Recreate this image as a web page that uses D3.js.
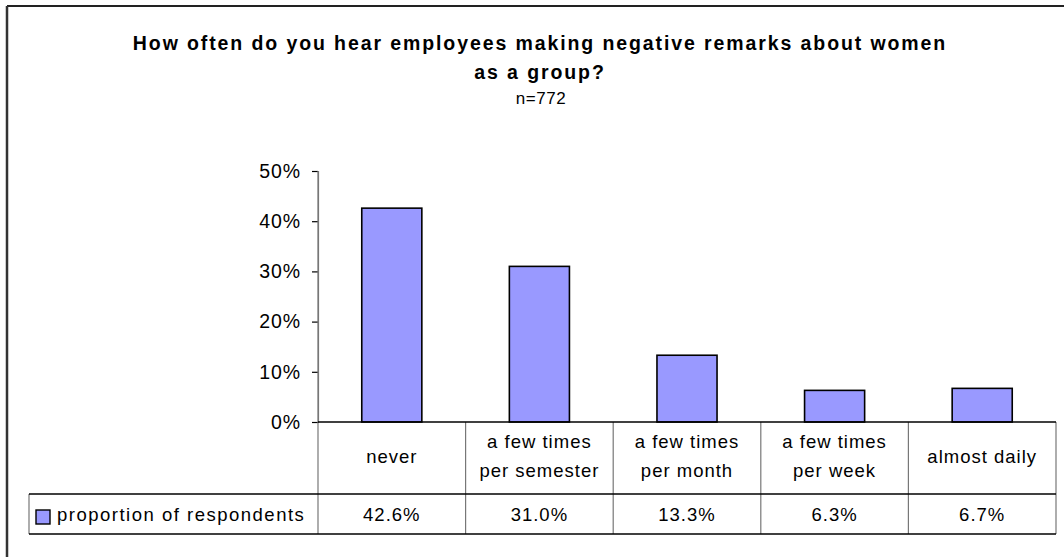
<!DOCTYPE html>
<html>
<head>
<meta charset="utf-8">
<script src="https://cdn.jsdelivr.net/npm/d3@7"></script>
<style>
  html, body { margin: 0; padding: 0; background: #fff; }
  svg { display: block; font-family: Arial, "Liberation Sans", sans-serif; }
</style>
</head>
<body>
<svg id="chart" width="1064" height="557"></svg>
<script>
// Survey responses
const categories = [
  ["never"],
  ["a few times", "per semester"],
  ["a few times", "per month"],
  ["a few times", "per week"],
  ["almost daily"]
];
const values = [42.6, 31.0, 13.3, 6.3, 6.7];
const yTicks = [0, 10, 20, 30, 40, 50];
const seriesName = "proportion of respondents";
const titleLines = ["How often do you hear employees making negative remarks about women", "as a group?"];
const subtitle = "n=772";

const svg = d3.select("#chart");
const W = 1064, H = 557;

// outer frame (top and left edges visible)
svg.append("line").attr("x1", 7).attr("x2", W).attr("y1", 6).attr("y2", 6)
  .attr("stroke", "#222").attr("stroke-width", 2);
svg.append("line").attr("x1", 7).attr("x2", 7).attr("y1", 6).attr("y2", H)
  .attr("stroke", "#333").attr("stroke-width", 2.5);

// titles
const titleG = svg.append("g").attr("text-anchor", "middle");
titleLines.forEach((t, i) => {
  titleG.append("text").attr("x", 540).attr("y", 50 + i * 29)
    .attr("font-size", 19.5).attr("font-weight", "bold")
    .attr("letter-spacing", 1.9)
    .text(t);
});
titleG.append("text").attr("x", 541).attr("y", 104)
  .attr("font-size", 17).attr("letter-spacing", 0.6).text(subtitle);

// scales
const plotLeft = 318, plotRight = 1056, plotTop = 171, plotBottom = 422;
const x = d3.scaleBand().domain(d3.range(categories.length))
  .range([plotLeft, plotRight]).paddingInner(0).paddingOuter(0);
const y = d3.scaleLinear().domain([0, 50]).range([plotBottom, plotTop]);

// y axis
const yAxis = d3.axisLeft(y).tickValues(yTicks).tickSize(6).tickPadding(11)
  .tickFormat(d => d + "%");
const yG = svg.append("g").attr("transform", `translate(${plotLeft},0)`).call(yAxis);
yG.select(".domain").attr("stroke", "#777").attr("stroke-width", 1.2);
yG.selectAll(".tick line").attr("stroke", "#000").attr("stroke-width", 1.2);
yG.selectAll(".tick text").attr("font-size", 19.5).attr("fill", "#000")
  .attr("font-family", "Arial, 'Liberation Sans', sans-serif")
  .attr("letter-spacing", 0.9);

// bars
const barW = x.bandwidth() * 0.407;
svg.append("g").selectAll("rect").data(values).join("rect")
  .attr("x", (d, i) => x(i) + (x.bandwidth() - barW) / 2)
  .attr("y", d => y(d))
  .attr("width", barW)
  .attr("height", d => y(0) - y(d))
  .attr("fill", "#9999FF")
  .attr("stroke", "#000")
  .attr("stroke-width", 1.6);

// data table below the plot
const row1Bottom = 494, row2Bottom = 534, legendLeft = 29;
const tbl = svg.append("g");
// vertical column lines
d3.range(categories.length + 1).forEach(i => {
  const xx = i < categories.length ? x(i) : plotRight;
  tbl.append("line").attr("x1", xx).attr("x2", xx)
    .attr("y1", i === 0 ? plotTop : plotBottom).attr("y2", row2Bottom)
    .attr("stroke", "#777").attr("stroke-width", 1.2);
});
tbl.append("line").attr("x1", legendLeft).attr("x2", legendLeft)
  .attr("y1", row1Bottom).attr("y2", row2Bottom)
  .attr("stroke", "#777").attr("stroke-width", 1.2);
// horizontal lines
tbl.append("line").attr("x1", plotLeft).attr("x2", plotRight)
  .attr("y1", plotBottom).attr("y2", plotBottom).attr("stroke", "#000").attr("stroke-width", 1.3);
[row1Bottom, row2Bottom].forEach(yy => {
  tbl.append("line").attr("x1", legendLeft).attr("x2", plotRight)
    .attr("y1", yy).attr("y2", yy).attr("stroke", "#000").attr("stroke-width", 1.3);
});

// category labels
categories.forEach((lines, i) => {
  const cx = x(i) + x.bandwidth() / 2;
  const cy = (plotBottom + row1Bottom) / 2;
  const lh = 28.5;
  lines.forEach((ln, j) => {
    tbl.append("text").attr("x", cx)
      .attr("y", cy + (j - (lines.length - 1) / 2) * lh + 4.5)
      .attr("text-anchor", "middle").attr("font-size", 18.5)
      .attr("letter-spacing", 1)
      .text(ln);
  });
});

// value row
values.forEach((v, i) => {
  tbl.append("text").attr("x", x(i) + x.bandwidth() / 2)
    .attr("y", (row1Bottom + row2Bottom) / 2 + 7)
    .attr("text-anchor", "middle").attr("font-size", 18.5)
    .attr("letter-spacing", 1)
    .text(v.toFixed(1) + "%");
});

// legend key
tbl.append("rect").attr("x", 36).attr("y", 510).attr("width", 14).attr("height", 14)
  .attr("fill", "#9999FF").attr("stroke", "#000").attr("stroke-width", 1.4);
tbl.append("text").attr("x", 57).attr("y", (row1Bottom + row2Bottom) / 2 + 7)
  .attr("font-size", 18.5).attr("letter-spacing", 1.5).text(seriesName);
</script>
</body>
</html>
